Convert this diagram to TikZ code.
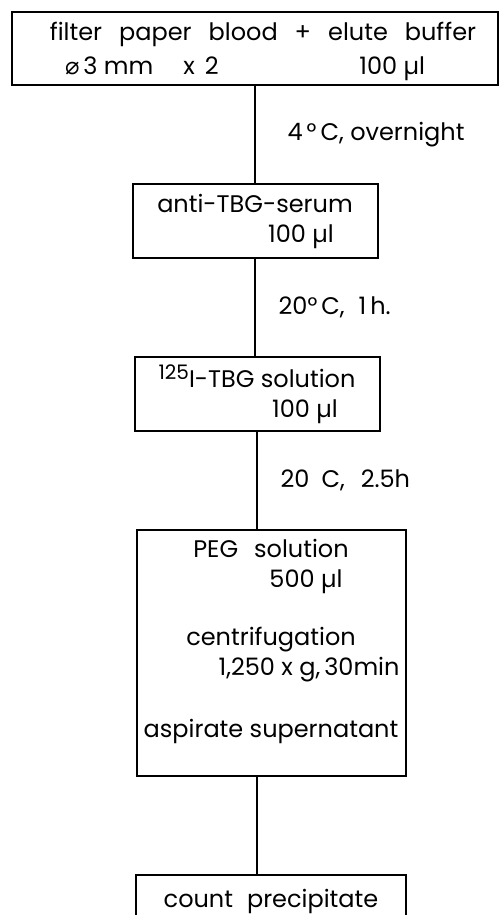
\documentclass[tikz,border=0pt]{standalone}
\usepackage{fontspec}
\setmainfont{Poppins}
\newfontfamily\symfont{DejaVu Sans}
\usetikzlibrary{positioning}

\begin{document}
\begin{tikzpicture}[
    node distance=48.5pt,
    box/.style={rectangle, draw, line width=1pt, minimum height=37pt, align=center, inner sep=2pt, font=\fontsize{12}{15}\selectfont},
    flow/.style={line width=1pt},
    cond/.style={midway, right, xshift=8pt, font=\fontsize{12}{14}\selectfont}
]
    \useasboundingbox (0,0) rectangle (249pt,-457.5pt);

    % Sample and buffer
    \node[box, minimum width=243pt, minimum height=36.5pt] (sample) at (127.5pt,-24.25pt) {\rule{0pt}{12pt}\hspace*{8pt}{\spaceskip=8.5pt\relax filter paper blood + elute buffer}\\[2pt] \makebox[180pt][l]{{\symfont ⌀}\,3 mm\hspace{15pt}x\hspace{5pt}2\hfill 100 µl}\hspace*{10pt}};

    % Antiserum
    \node[box, minimum width=122.5pt, below=of sample] (anti) {anti-TBG-serum\\ \hspace*{46pt}100 µl};

    % Tracer
    \node[box, minimum width=122.5pt, below=of anti, xshift=1pt] (tracer) {\raisebox{4pt}{\fontsize{10}{10}\selectfont 125}I-TBG solution\\ \hspace*{48pt}100 µl};

    % Precipitation
    \node[box, minimum width=134.5pt, minimum height=123pt, below=of tracer, xshift=7pt] (peg) {PEG\hspace{8pt}solution\\ \hspace*{35pt}500 µl\\[14pt] centrifugation\\ \makebox[130.5pt][r]{1,250 x g,\,30min\hspace*{1pt}}\\[16pt] aspirate supernatant\\[0pt]\mbox{}};

    % Counting
    \node[box, minimum width=135pt, minimum height=26pt, below=of peg] (count) {count\hspace{7pt}precipitate};

    % Connectors
    \draw[flow] (sample) -- (anti) node[cond, xshift=4.5pt] {4\,°\,C, overnight};
    \draw[flow] (anti.south) -- (anti.south |- tracer.north) node[cond] {20°\,C,\hspace{7pt}1\,h.};
    \draw[flow] (tracer.south) -- (tracer.south |- peg.north) node[cond] {20\hspace{6pt}C,\hspace{8pt}2.5h};
    \draw[flow] (peg.south -| tracer.south) -- (count.north -| tracer.south);
\end{tikzpicture}
\end{document}
